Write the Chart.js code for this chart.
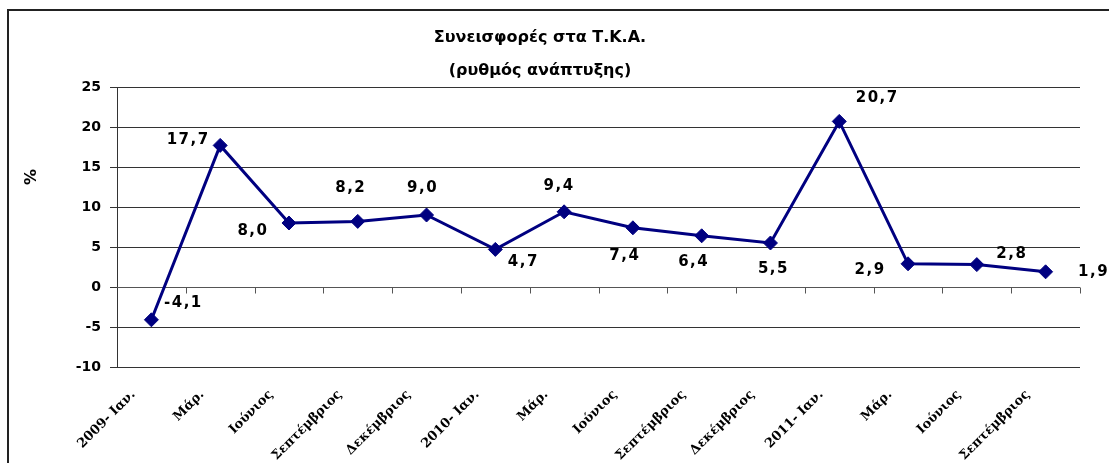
<!DOCTYPE html>
<html><head><meta charset="utf-8">
<script src="https://cdn.jsdelivr.net/npm/chart.js@4/dist/chart.umd.min.js"></script>
<style>html,body{margin:0;padding:0;background:#fff}#wrap{width:1109px;height:463px;position:relative}</style>
</head><body><div id="wrap"><canvas id="c"></canvas></div>
<script>
const categories = ["2009- Ιαν.","Μάρ.","Ιούνιος","Σεπτέμβριος","Δεκέμβριος","2010- Ιαν.","Μάρ.","Ιούνιος","Σεπτέμβριος","Δεκέμβριος","2011- Ιαν.","Μάρ.","Ιούνιος","Σεπτέμβριος"];
const growthRate = [-4.1,17.7,8.0,8.2,9.0,4.7,9.4,7.4,6.4,5.5,20.7,2.9,2.8,1.9];
const yMin = -10, yMax = 25, yStep = 5;
const titleLines = ["Συνεισφορές στα Τ.Κ.Α.","(ρυθμός ανάπτυξης)"];
const yAxisLabel = "%";
// label placement relative to each point (layout only)
const labelOffsets = [[32,-17],[-32,-5],[-36,8],[-7,-33],[-4,-27],[28,13],[-5,-26],[-8,28],[-8,26],[3,26],[38,-23],[-38,6],[35,-10],[48,0]];

const fmt = v => v.toFixed(1).replace('.', ',');

const framePlugin = {
  id: 'frame',
  beforeDraw(chart) {
    const ctx = chart.ctx;
    ctx.save();
    ctx.strokeStyle = '#222';
    ctx.lineWidth = 2;
    ctx.beginPath();
    ctx.moveTo(8, chart.height);
    ctx.lineTo(8, 10);
    ctx.lineTo(chart.width, 10);
    ctx.stroke();
    ctx.restore();
  },
  afterDraw(chart) {
    const ctx = chart.ctx;
    ctx.save();
    ctx.fillStyle = '#000';
    ctx.font = 'bold 16px "DejaVu Sans"';
    ctx.textAlign = 'center';
    ctx.textBaseline = 'middle';
    ctx.translate(32, 177);
    ctx.rotate(-Math.PI / 2);
    ctx.fillText(yAxisLabel, 0, 0);
    ctx.restore();
  }
};

const zeroAxisPlugin = {
  id: 'zeroAxis',
  beforeDatasetsDraw(chart) {
    const {ctx, chartArea, scales} = chart;
    const y0 = Math.round(scales.y.getPixelForValue(0)) + 0.5;
    const n = categories.length;
    ctx.save();
    ctx.strokeStyle = '#555';
    ctx.lineWidth = 1;
    ctx.beginPath();
    ctx.moveTo(chartArea.left, y0);
    ctx.lineTo(chartArea.right, y0);
    for (let k = 1; k <= n; k++) {
      const x = Math.round(scales.x.getPixelForValue(k - 0.5)) + 0.5;
      ctx.moveTo(x, y0);
      ctx.lineTo(x, y0 + 6);
    }
    ctx.stroke();
    ctx.restore();
  }
};

const dataLabelPlugin = {
  id: 'dataLabels',
  afterDatasetsDraw(chart) {
    const ctx = chart.ctx;
    const meta = chart.getDatasetMeta(0);
    ctx.save();
    ctx.fillStyle = '#000';
    ctx.font = 'bold 15px "DejaVu Sans"';
    if ('letterSpacing' in ctx) ctx.letterSpacing = '1.5px';
    ctx.textAlign = 'center';
    ctx.textBaseline = 'middle';
    meta.data.forEach((pt, i) => {
      const [dx, dy] = labelOffsets[i];
      ctx.fillText(fmt(growthRate[i]), pt.x + dx, pt.y + dy);
    });
    ctx.restore();
  }
};

new Chart(document.getElementById('c'), {
  type: 'line',
  data: {
    labels: categories,
    datasets: [{
      data: growthRate,
      borderColor: '#000080',
      backgroundColor: '#000080',
      borderWidth: 3,
      pointStyle: 'rectRot',
      pointRadius: 7,
      pointBorderWidth: 1,
      pointBackgroundColor: '#000080',
      pointBorderColor: '#000080',
      tension: 0,
      fill: false
    }]
  },
  options: {
    responsive: true,
    maintainAspectRatio: false,
    animation: false,
    layout: { padding: { top: 0, right: 29, bottom: 0, left: 0 } },
    plugins: {
      legend: { display: false },
      tooltip: { enabled: false },
      title: {
        display: true,
        text: titleLines,
        color: '#000',
        font: { family: '"DejaVu Sans"', size: 16, weight: 'bold', lineHeight: '32.5px' },
        padding: { top: 22, bottom: 0 }
      }
    },
    scales: {
      x: {
        offset: true,
        grid: { display: false, drawTicks: false },
        border: { display: false },
        ticks: {
          minRotation: 45, maxRotation: 45, autoSkip: false,
          color: '#000',
          font: { family: '"DejaVu Serif"', size: 13, weight: 'bold' },
          padding: 20,
          labelOffset: -18
        },
        afterFit(scale) { scale.height = 96; }
      },
      y: {
        min: yMin, max: yMax,
        ticks: {
          stepSize: yStep,
          color: '#000',
          font: { family: '"DejaVu Sans"', size: 14, weight: 'bold' },
          padding: 9
        },
        grid: { color: '#333', lineWidth: 1, tickLength: 7, tickColor: '#333' },
        border: { color: '#333', width: 1 },
        afterFit(scale) { scale.width = 117; }
      }
    }
  },
  plugins: [framePlugin, zeroAxisPlugin, dataLabelPlugin]
});
</script>
</body></html>
